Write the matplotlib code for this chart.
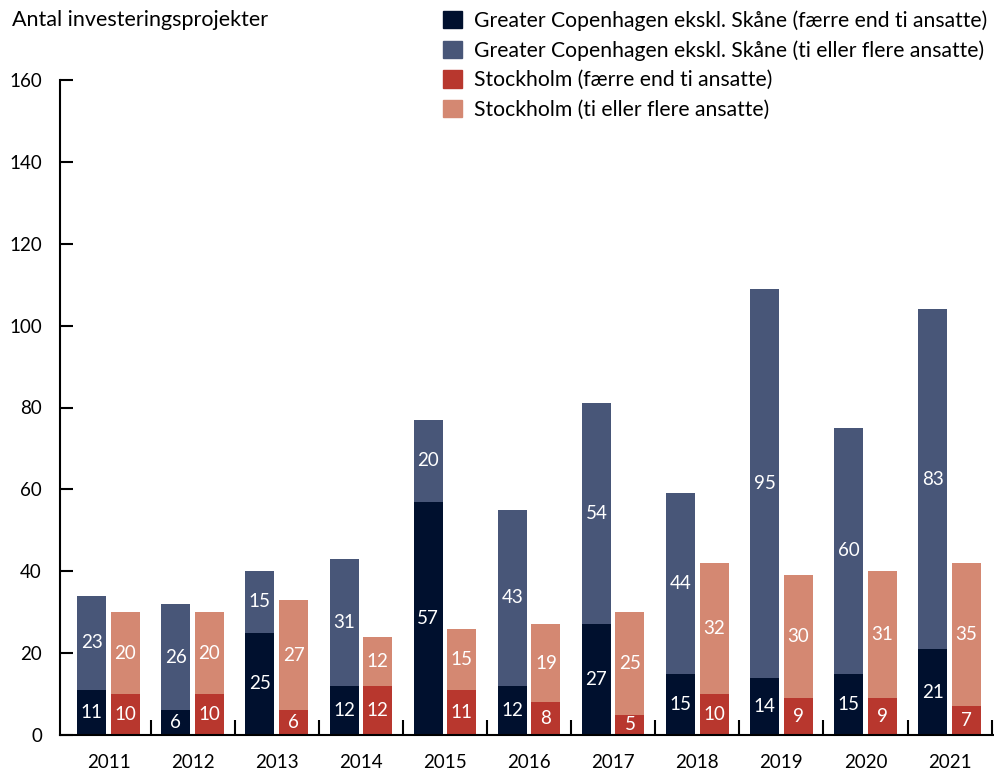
import numpy as np
import matplotlib
matplotlib.use("Agg")
import matplotlib.pyplot as plt
from matplotlib.patches import Patch

plt.rcParams["font.family"] = ["Lato", "DejaVu Sans"]

years = ["2011", "2012", "2013", "2014", "2015", "2016", "2017", "2018", "2019", "2020", "2021"]
cph_small = [11, 6, 25, 12, 57, 12, 27, 15, 14, 15, 21]
cph_large = [23, 26, 15, 31, 20, 43, 54, 44, 95, 60, 83]
sto_small = [10, 10, 6, 12, 11, 8, 5, 10, 9, 9, 7]
sto_large = [20, 20, 27, 12, 15, 19, 25, 32, 30, 31, 35]

labels = [
    "Greater Copenhagen ekskl. Skåne (færre end ti ansatte)",
    "Greater Copenhagen ekskl. Skåne (ti eller flere ansatte)",
    "Stockholm (færre end ti ansatte)",
    "Stockholm (ti eller flere ansatte)",
]
colors = ["#00102e", "#485678", "#b8372e", "#d48872"]

W, H = 994, 770
fig = plt.figure(figsize=(W / 100, H / 100), dpi=100)
ax = fig.add_axes([60 / W, 1 - 735 / H, 935 / W, 655 / H])

x = np.arange(len(years))
bw = 0.345
off = 0.2

def stack(xpos, low, high, c_low, c_high):
    ax.bar(xpos, low, bw, color=c_low, zorder=2)
    ax.bar(xpos, high, bw, bottom=low, color=c_high, zorder=2)
    for xi, a, b in zip(xpos, low, high):
        ax.text(xi, a / 2, str(a), color="white", ha="center", va="center", fontsize=13.5)
        ax.text(xi, a + b / 2, str(b), color="white", ha="center", va="center", fontsize=13.5)

stack(x - off, cph_small, cph_large, colors[0], colors[1])
stack(x + off, sto_small, sto_large, colors[2], colors[3])

ax.set_xlim(-0.577, 10.54)
ax.set_ylim(0, 160)
ax.set_yticks(np.arange(0, 161, 20))
ax.tick_params(axis="y", direction="in", length=9, width=1.5, labelsize=13.5, pad=13)
ax.set_xticks(x)
ax.set_xticklabels(years)
ax.tick_params(axis="x", which="major", length=0, labelsize=13.5, pad=14)
ax.set_xticks(np.arange(0.5, len(years), 1), minor=True)
ax.tick_params(axis="x", which="minor", direction="in", length=11, width=1.5)
for s in ["top", "right"]:
    ax.spines[s].set_visible(False)
for s in ["left", "bottom"]:
    ax.spines[s].set_linewidth(1.5)

fig.text(12 / W, 1 - 20 / H, "Antal investeringsprojekter", fontsize=15.5, va="center", ha="left")

handles = [Patch(color=c) for c in colors]
fig.legend(handles, labels, loc="upper left", bbox_to_anchor=(443 / W, 1 - 10 / H),
           frameon=False, fontsize=15.2, handlelength=0.88, handleheight=0.88,
           handletextpad=0.6, labelspacing=0.45, borderpad=0, borderaxespad=0)

fig.savefig("out.png", dpi=100)
